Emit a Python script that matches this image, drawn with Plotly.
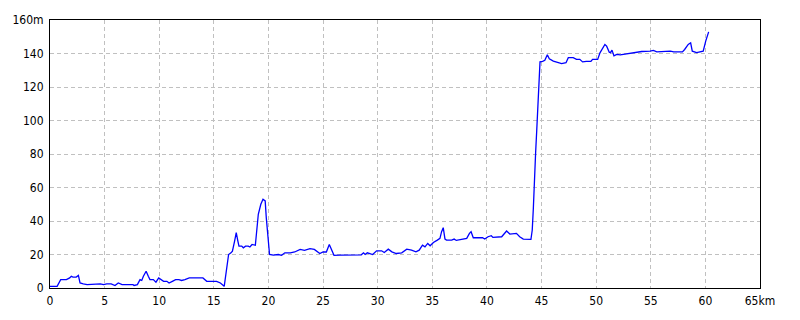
import plotly.graph_objects as go

distance_km = [
    0.0, 0.65, 0.98, 1.5, 1.8, 1.95, 2.1, 2.4, 2.6, 2.75, 3.05, 3.4, 4.6, 4.9, 5.2, 5.6,
    5.95, 6.25, 6.6, 7.6, 7.7, 8.0, 8.24, 8.4, 8.55, 8.8, 9.0, 9.15, 9.46, 9.7, 9.95,
    10.1, 10.4, 10.7, 10.9, 11.2, 11.5, 11.8, 12.05, 12.35, 12.75, 14.0, 14.35, 15.25,
    15.6, 15.95, 16.35, 16.57, 16.7, 16.9, 17.05, 17.2, 17.3, 17.55, 17.7, 17.9, 18.15,
    18.3, 18.5, 18.8, 18.9, 19.07, 19.3, 19.5, 19.7, 19.8, 20.1, 20.45, 20.9, 21.2,
    21.5, 22.0, 22.4, 22.9, 23.3, 23.8, 24.2, 24.7, 25.0, 25.3, 25.57, 25.8, 26.0,
    26.55, 28.5, 28.7, 28.85, 29.05, 29.3, 29.54, 29.9, 30.36, 30.6, 30.97, 31.3, 31.7,
    32.2, 32.66, 33.1, 33.5, 33.8, 34.1, 34.33, 34.58, 34.8, 35.1, 35.46, 35.7, 35.85,
    36.0, 36.16, 36.3, 36.77, 37.0, 37.2, 37.7, 38.15, 38.4, 38.55, 38.75, 39.6, 39.8,
    40.1, 40.4, 40.55, 41.35, 41.8, 42.1, 42.4, 42.7, 43.0, 43.33, 44.03, 44.15, 44.25,
    44.34, 44.46, 44.56, 44.71, 44.86, 45.1, 45.3, 45.53, 45.71, 46.08, 46.5, 46.84,
    47.24, 47.45, 47.9, 48.2, 48.5, 48.76, 49.1, 49.52, 49.67, 50.14, 50.35, 50.6, 50.8,
    50.96, 51.2, 51.32, 51.45, 51.63, 51.88, 52.2, 52.5, 52.95, 53.4, 53.87, 54.17,
    54.93, 55.24, 55.55, 56.8, 57.1, 57.9, 58.1, 58.43, 58.65, 58.8, 59.2, 59.5, 59.8,
    60.03, 60.18, 60.3,
]
elevation_m = [
    1, 1, 5, 5, 6, 7, 6.5, 6.5, 7.5, 3, 2.5, 2, 2.5, 2, 2.5, 2.5,
    1.5, 3, 2, 2, 1.5, 2, 5, 4.5, 7, 10, 7, 5, 5, 3.5, 6,
    5.5, 4, 4, 3, 4, 5, 5, 4.5, 5, 6, 6, 4, 4,
    3, 1, 20, 21, 22, 28, 33, 28, 25, 25, 24, 25, 25,
    24.5, 26, 25.5, 34, 44, 50, 53, 52, 42, 20, 19.6, 20, 19.5,
    21, 21, 21.5, 23, 22.5, 23.5, 23, 20.6, 21.5, 21.5, 26, 22, 19.5,
    19.6, 19.8, 21, 20, 21, 20.5, 20, 22.2, 22.2, 21.2, 23.2, 21.6, 20.6,
    21, 23.2, 22.6, 21.6, 22.6, 25.6, 24.6, 26.6, 25.2, 27.2, 28.6, 29.6, 33.6,
    36, 29.2, 28.6, 28.6, 29.2, 28.4, 28.8, 29.6, 32.6, 33.6, 30, 30, 29.2,
    30.6, 31.2, 30.2, 30.6, 34, 32.2, 32.2, 32.6, 30.6, 29.2, 29, 34.6, 47.6,
    58.5, 81, 94, 118.7, 135, 135.3, 136, 139.3, 136.9, 135.5, 134.5, 134,
    134.5, 137.5, 137.5, 136.5, 136.5, 135, 135.3, 135.3, 136.5, 136.5, 140.4, 143.4, 145.4,
    144.4, 140.8, 140.5, 142, 138.6, 139.5, 139.2, 139.5, 139.9, 140.5, 140.8, 141.2,
    141.4, 141.8, 141, 141.4, 141, 141, 142.4, 145.4, 146.4, 141.4, 140.5, 140.8, 141.4,
    147.4, 151.3, 152.9,
]

x_tick_vals = [0, 5, 10, 15, 20, 25, 30, 35, 40, 45, 50, 55, 60, 65]
x_tick_text = ["0", "5", "10", "15", "20", "25", "30", "35", "40", "45", "50", "55", "60", "65km"]
y_tick_vals = [0, 20, 40, 60, 80, 100, 120, 140, 160]
y_tick_text = ["0", "20", "40", "60", "80", "100", "120", "140", "160m"]

font_family = "Liberation Sans Narrow, DejaVu Sans Condensed, Liberation Sans, sans-serif"

fig = go.Figure()
fig.add_trace(go.Scatter(
    x=distance_km, y=elevation_m, mode="lines",
    line=dict(color="#0000ff", width=1.3),
    hoverinfo="skip", showlegend=False,
))

fig.update_layout(
    width=800, height=320,
    margin=dict(l=50, r=40, t=20, b=30),
    paper_bgcolor="white", plot_bgcolor="white",
    font=dict(family=font_family, size=12, color="black"),
    xaxis=dict(
        range=[0, 65], tickmode="array", tickvals=x_tick_vals, ticktext=x_tick_text,
        showgrid=True, gridcolor="#c0c0c0", griddash="4px,3px", gridwidth=1,
        showline=True, linecolor="black", linewidth=1, mirror=True,
        ticks="outside", ticklen=2, tickcolor="rgba(0,0,0,0)",
        zeroline=False, fixedrange=True,
    ),
    yaxis=dict(
        range=[0, 160], tickmode="array", tickvals=y_tick_vals, ticktext=y_tick_text,
        showgrid=True, gridcolor="#c0c0c0", griddash="4px,3px", gridwidth=1,
        showline=True, linecolor="black", linewidth=1, mirror=True,
        ticks="outside", ticklen=3, tickcolor="rgba(0,0,0,0)",
        zeroline=False, fixedrange=True,
    ),
)

fig.write_html("out.html")
